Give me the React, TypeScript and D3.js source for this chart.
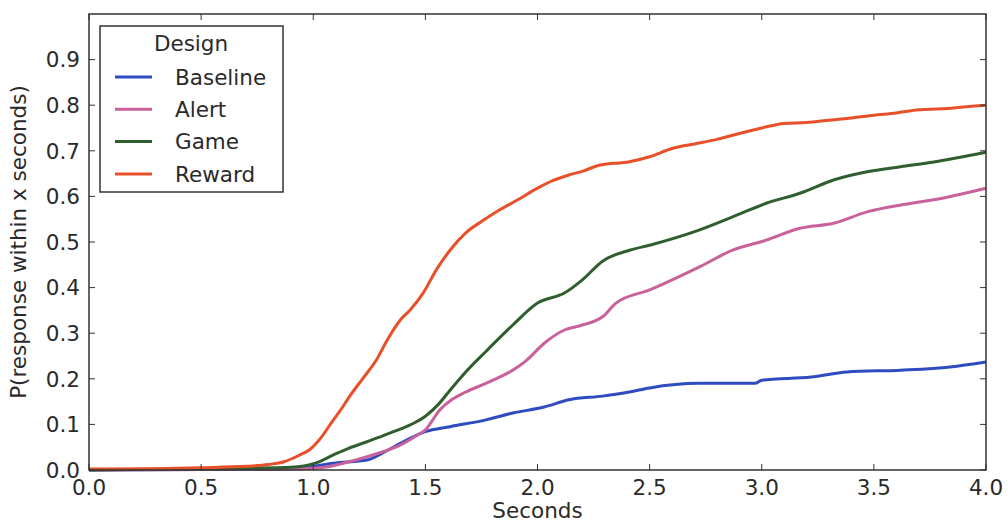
import { useEffect, useRef } from 'react';
import * as d3 from 'd3';

// Cumulative response probability curves
const baselineSec = [0, 0.5, 0.9, 1.0, 1.09, 1.24, 1.32, 1.39, 1.5, 1.61, 1.77, 1.89, 2.03, 2.14, 2.29, 2.41, 2.5, 2.72, 2.97, 3.0, 3.22, 3.38, 3.62, 3.84, 4.0];
const baselineP = [0, 0.001, 0.003, 0.008, 0.015, 0.022, 0.04, 0.059, 0.084, 0.095, 0.11, 0.125, 0.138, 0.154, 0.162, 0.171, 0.18, 0.19, 0.19, 0.197, 0.204, 0.215, 0.219, 0.226, 0.237];

const alertSec = [0, 0.5, 0.9, 1.05, 1.16, 1.24, 1.31, 1.39, 1.46, 1.5, 1.565, 1.62, 1.68, 1.77, 1.89, 1.95, 2.03, 2.12, 2.2, 2.29, 2.35, 2.5, 2.72, 2.87, 3.02, 3.17, 3.32, 3.47, 3.62, 3.76, 4.0];
const alertP = [0, 0.001, 0.002, 0.006, 0.018, 0.029, 0.04, 0.055, 0.075, 0.088, 0.132, 0.155, 0.171, 0.19, 0.219, 0.24, 0.278, 0.307, 0.318, 0.336, 0.366, 0.395, 0.445, 0.482, 0.504, 0.53, 0.541, 0.566, 0.581, 0.592, 0.618];

const gameSec = [0, 0.35, 0.7, 0.9, 1.01, 1.09, 1.16, 1.24, 1.31, 1.39, 1.45, 1.5, 1.56, 1.61, 1.68, 1.77, 1.89, 2.0, 2.12, 2.2, 2.29, 2.41, 2.5, 2.72, 2.87, 3.02, 3.17, 3.32, 3.47, 3.62, 3.76, 4.0];
const gameP = [0, 0.002, 0.004, 0.006, 0.015, 0.033, 0.048, 0.062, 0.075, 0.09, 0.103, 0.118, 0.145, 0.175, 0.215, 0.26, 0.318, 0.366, 0.388, 0.417, 0.458, 0.482, 0.493, 0.526, 0.555, 0.585, 0.607, 0.636, 0.654, 0.665, 0.675, 0.697];

const rewardSec = [0, 0.3, 0.5, 0.7, 0.8, 0.87, 0.94, 0.985, 1.03, 1.09, 1.12, 1.16, 1.22, 1.28, 1.33, 1.39, 1.43, 1.49, 1.55, 1.61, 1.68, 1.76, 1.83, 1.91, 2.0, 2.07, 2.14, 2.2, 2.28, 2.41, 2.5, 2.6, 2.7, 2.8, 2.9, 3.0, 3.1, 3.2, 3.3, 3.4, 3.5, 3.6, 3.7, 3.8, 3.9, 4.0];
const rewardP = [0.002, 0.003, 0.005, 0.008, 0.012, 0.018, 0.033, 0.045, 0.068, 0.11, 0.13, 0.16, 0.2, 0.24, 0.285, 0.33, 0.35, 0.388, 0.44, 0.482, 0.52, 0.548, 0.57, 0.592, 0.618, 0.635, 0.647, 0.655, 0.669, 0.676, 0.687, 0.705, 0.715, 0.725, 0.738, 0.75, 0.76, 0.762, 0.767, 0.772, 0.778, 0.783, 0.79, 0.792, 0.796, 0.8];

const seriesNames = ['Baseline', 'Alert', 'Game', 'Reward'];
const seriesColors = ['#2f4bc0', '#c9619a', '#2f5f2f', '#e8502a'];

const xTicks = [0, 0.5, 1, 1.5, 2, 2.5, 3, 3.5, 4];
const yTicks = [0, 0.1, 0.2, 0.3, 0.4, 0.5, 0.6, 0.7, 0.8, 0.9];

const W = 1008;
const H = 523;

const App = (): JSX.Element => {
  const svgRef = useRef<SVGSVGElement>(null);

  useEffect(() => {
    if (!svgRef.current) return;
    svgRef.current.innerHTML = '';

    const left = 89;
    const right = 986;
    const top = 14;
    const bottom = 470;
    const font = 'DejaVu Sans, sans-serif';
    const fontSize = 21.5;
    const textColor = '#2a2a2a';

    const x = d3.scaleLinear([0, 4], [left, right]);
    const y = d3.scaleLinear([0, 1], [bottom, top]);

    const svg = d3.select(svgRef.current).attr('width', W).attr('height', H).attr('viewBox', [0, 0, W, H]);

    const seriesData = [
      d3.zip(baselineSec, baselineP),
      d3.zip(alertSec, alertP),
      d3.zip(gameSec, gameP),
      d3.zip(rewardSec, rewardP)
    ];

    const line = d3
      .line<number[]>()
      .x((d) => x(d[0]))
      .y((d) => y(d[1]))
      .curve(d3.curveMonotoneX);

    seriesData.forEach((data, i) => {
      svg
        .append('path')
        .attr('fill', 'none')
        .attr('stroke', seriesColors[i])
        .attr('stroke-width', 3)
        .attr('stroke-linejoin', 'round')
        .attr('d', line(data));
    });

    // ticks point inward, on all four sides
    const tickLen = 6;
    xTicks.forEach((t) => {
      svg.append('line').attr('x1', x(t)).attr('x2', x(t)).attr('y1', bottom).attr('y2', bottom - tickLen).attr('stroke', '#333');
      svg.append('line').attr('x1', x(t)).attr('x2', x(t)).attr('y1', top).attr('y2', top + tickLen).attr('stroke', '#333');
      svg
        .append('text')
        .attr('x', x(t))
        .attr('y', bottom + 25)
        .attr('text-anchor', 'middle')
        .attr('font-family', font)
        .attr('font-size', fontSize)
        .attr('fill', textColor)
        .text(d3.format('.1f')(t));
    });
    yTicks.forEach((t) => {
      svg.append('line').attr('x1', left).attr('x2', left + tickLen).attr('y1', y(t)).attr('y2', y(t)).attr('stroke', '#333');
      svg.append('line').attr('x1', right).attr('x2', right - tickLen).attr('y1', y(t)).attr('y2', y(t)).attr('stroke', '#333');
      svg
        .append('text')
        .attr('x', left - 9)
        .attr('y', y(t))
        .attr('dy', '0.36em')
        .attr('text-anchor', 'end')
        .attr('font-family', font)
        .attr('font-size', fontSize)
        .attr('fill', textColor)
        .text(d3.format('.1f')(t));
    });

    svg
      .append('rect')
      .attr('x', left)
      .attr('y', top)
      .attr('width', right - left)
      .attr('height', bottom - top)
      .attr('fill', 'none')
      .attr('stroke', '#333')
      .attr('stroke-width', 1.5);

    svg
      .append('text')
      .attr('x', (left + right) / 2)
      .attr('y', 518)
      .attr('text-anchor', 'middle')
      .attr('font-family', font)
      .attr('font-size', fontSize)
      .attr('fill', textColor)
      .text('Seconds');

    svg
      .append('text')
      .attr('transform', `translate(26,${(top + bottom) / 2}) rotate(-90)`)
      .attr('text-anchor', 'middle')
      .attr('font-family', font)
      .attr('font-size', fontSize)
      .attr('fill', textColor)
      .text('P(response within x seconds)');

    // legend
    const lg = svg.append('g');
    lg.append('rect')
      .attr('x', 100)
      .attr('y', 26)
      .attr('width', 183)
      .attr('height', 166)
      .attr('fill', 'white')
      .attr('stroke', '#333')
      .attr('stroke-width', 1.5);
    lg.append('text')
      .attr('x', 191)
      .attr('y', 51)
      .attr('text-anchor', 'middle')
      .attr('font-family', font)
      .attr('font-size', fontSize)
      .attr('fill', textColor)
      .text('Design');
    seriesNames.forEach((name, i) => {
      const ly = 77 + i * 32.3;
      lg.append('line').attr('x1', 115).attr('x2', 152).attr('y1', ly).attr('y2', ly).attr('stroke', seriesColors[i]).attr('stroke-width', 3);
      lg.append('text')
        .attr('x', 175)
        .attr('y', ly)
        .attr('dy', '0.36em')
        .attr('font-family', font)
        .attr('font-size', fontSize)
        .attr('fill', textColor)
        .text(name);
    });
  }, []);

  return (
    <div style={{ position: 'absolute', left: 0, top: 0 }}>
      <svg ref={svgRef} style={{ display: 'block' }} />
    </div>
  );
};

export default App;
